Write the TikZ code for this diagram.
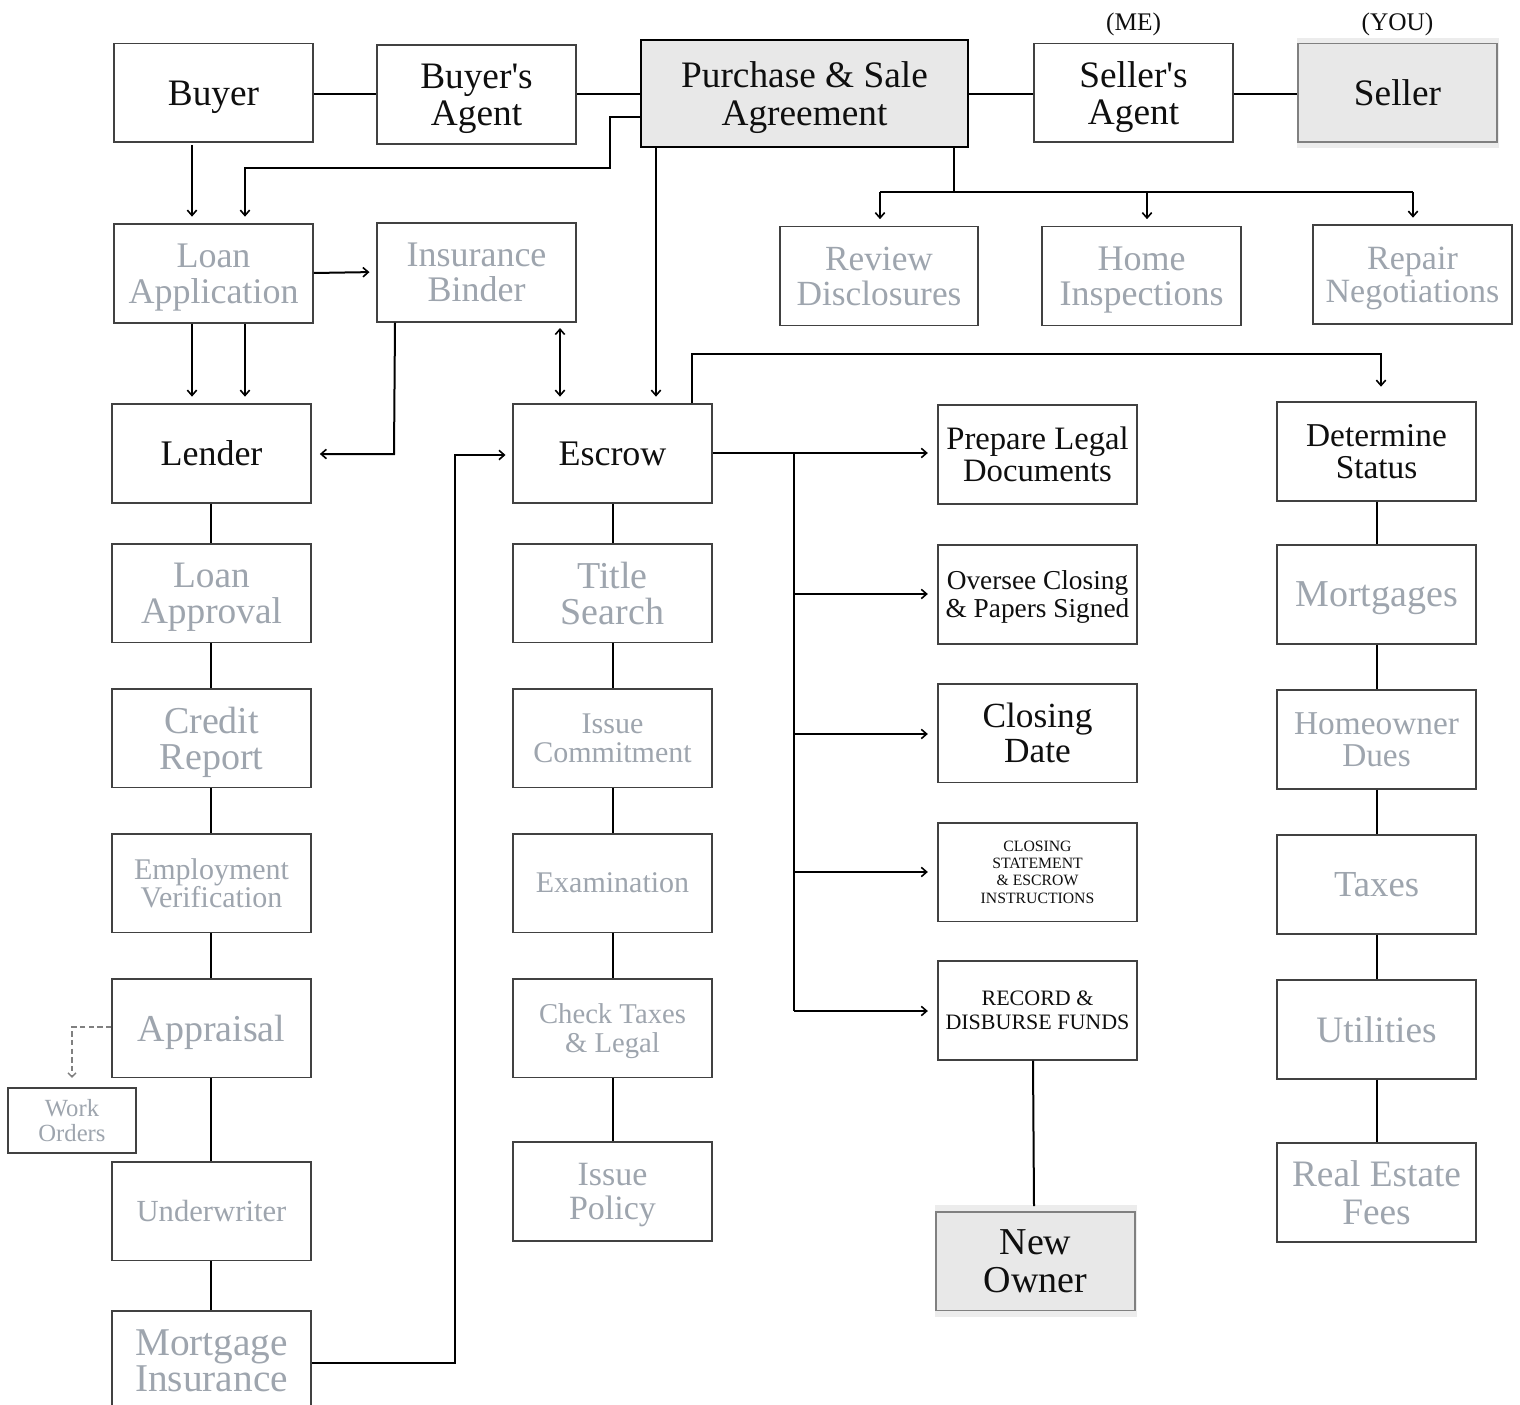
\documentclass[tikz,border=0pt]{standalone}
\usepackage{fontspec}
\setmainfont{Liberation Serif}[Ligatures=TeXOff]
\usetikzlibrary{arrows.meta}
\definecolor{bordc}{RGB}{65,65,65}
\definecolor{darktxt}{RGB}{15,15,15}
\definecolor{greytxt}{RGB}{158,165,174}
\definecolor{boxfill}{RGB}{232,232,232}
\definecolor{halofill}{RGB}{236,236,236}
\newcommand\myfs[2]{\fontsize{#1}{#2}\selectfont}
\tikzset{
  box/.style={draw=bordc, line width=1.25pt, minimum width=149.25pt, minimum height=74pt,
    inner sep=0pt, align=center, text=darktxt, text depth=0pt},
  gbox/.style={box, text=greytxt},
  conn/.style={line width=1.5pt, draw=black},
  arr/.style={conn, -{Straight Barb[length=4pt,width=7pt,line width=1.2pt]}, shorten >=5pt},
  darr/.style={conn, {Straight Barb[length=4pt,width=7pt,line width=1.2pt]}-{Straight Barb[length=4pt,width=7pt,line width=1.2pt]}, shorten >=5pt, shorten <=4pt},
  dasharr/.style={line width=1.2pt, draw=gray, dashed, dash pattern=on 4pt off 2.5pt, -{Straight Barb[length=3pt,width=6pt,line width=1pt]}, shorten >=7pt},
}
\begin{document}
\begin{tikzpicture}[x=0.75pt,y=-0.75pt]
\clip (0,0) rectangle (1520,1405);
\useasboundingbox (0,0) rectangle (1520,1405);
\fill[white] (0,0) rectangle (1520,1405);

% halos
\fill[halofill] (1297,38) rectangle (1499,148);
\fill[halofill] (935,1205) rectangle (1137,1317);

% top row
\node[box, font=\myfs{28}{28}] (buyer) at (213.5,93) {Buyer};
\node[box, font=\myfs{28}{28}] (bagent) at (476.5,94.5) {Buyer's\\Agent};
\node[box, draw=black, line width=2.2pt, fill=boxfill, minimum width=245.25pt, minimum height=80.25pt, font=\myfs{28}{28}] (psa) at (804.5,93.5) {Purchase \& Sale\\Agreement};
\node[box, font=\myfs{28}{28}] (sagent) at (1133.5,93) {Seller's\\Agent};
\node[box, fill=boxfill, draw=gray, font=\myfs{28}{28}] (seller) at (1397.5,93) {Seller};
\node[text=darktxt, font=\myfs{19}{19}] (me) at (1133.5,24) {(ME)};
\node[text=darktxt, font=\myfs{19}{19}] (you) at (1397.5,24) {(YOU)};

% second row
\node[gbox, font=\myfs{27}{27}] (loanapp) at (213.5,273.5) {Loan\\Application};
\node[gbox, font=\myfs{27}{26.5}] (insbinder) at (476.5,272.5) {Insurance\\Binder};
\node[gbox, minimum width=148.5pt, font=\myfs{26.5}{26.5}] (review) at (879,276) {Review\\Disclosures};
\node[gbox, font=\myfs{27}{26.5}] (homeinsp) at (1141.5,276) {Home\\Inspections};
\node[gbox, font=\myfs{25.5}{25}] (repair) at (1412.5,274.5) {Repair\\Negotiations};

% lender column
\node[box, font=\myfs{27}{27}] (lender) at (211.5,453.5) {Lender};
\node[gbox, font=\myfs{28}{27}] (loanappr) at (211.5,593) {Loan\\Approval};
\node[gbox, font=\myfs{28.5}{27}] (credit) at (211.5,738) {Credit\\Report};
\node[gbox, font=\myfs{22.5}{21}] (employ) at (211.5,883) {Employment\\Verification};
\node[gbox, font=\myfs{28.5}{28}] (appraisal) at (211.5,1028) {Appraisal};
\node[gbox, minimum width=96pt, minimum height=48.75pt, font=\myfs{18.5}{18.5}] (workorders) at (72,1120.5) {Work\\Orders};
\node[gbox, font=\myfs{23}{23}] (underwriter) at (211.5,1211) {Underwriter};
\node[gbox, font=\myfs{29.5}{27.5}] (mortins) at (211.5,1360.5) {Mortgage\\Insurance};

% escrow column
\node[box, font=\myfs{27}{27}] (escrow) at (612.5,453.5) {Escrow};
\node[gbox, font=\myfs{28.5}{27}] (title) at (612.5,593) {Title\\Search};
\node[gbox, font=\myfs{22.5}{21.5}] (issuecomm) at (612.5,738) {Issue\\Commitment};
\node[gbox, font=\myfs{22.5}{22}] (exam) at (612.5,883) {Examination};
\node[gbox, font=\myfs{21.5}{21.5}] (checktax) at (612.5,1028) {Check Taxes\\\& Legal};
\node[gbox, font=\myfs{25.5}{26}] (issuepol) at (612.5,1191.5) {Issue\\Policy};

% escrow tasks
\node[box, font=\myfs{24.5}{24}] (prepare) at (1037.5,454.5) {Prepare Legal\\Documents};
\node[box, font=\myfs{20.5}{21}] (oversee) at (1037.5,594.5) {Oversee Closing\\\& Papers Signed};
\node[box, font=\myfs{26.5}{26}] (closingdate) at (1037.5,733) {Closing\\Date};
\node[box, font=\myfs{11.8}{13}] (closingstmt) at (1037.5,872) {CLOSING\\STATEMENT\\\& ESCROW\\INSTRUCTIONS};
\node[box, font=\myfs{16.5}{18}] (record) at (1037.5,1010.5) {RECORD \&\\DISBURSE FUNDS};
\node[box, fill=boxfill, draw=gray, font=\myfs{28.5}{28}] (newowner) at (1035.5,1261) {New\\Owner};

% status column
\node[box, font=\myfs{25}{24}] (determine) at (1376.5,451.5) {Determine\\Status};
\node[gbox, font=\myfs{28.5}{28}] (mortgages) at (1376.5,594.5) {Mortgages};
\node[gbox, font=\myfs{25}{24.5}] (hoadues) at (1376.5,739.5) {Homeowner\\Dues};
\node[gbox, font=\myfs{27.5}{27}] (taxes) at (1376.5,884.5) {Taxes};
\node[gbox, font=\myfs{28}{28}] (utilities) at (1376.5,1029.5) {Utilities};
\node[gbox, font=\myfs{28}{28.5}] (refees) at (1376.5,1192.5) {Real Estate\\Fees};

% top row links
\draw[conn] (buyer.east |- 0,94) -- (bagent.west |- 0,94);
\draw[conn] (bagent.east |- 0,94) -- (psa.west |- 0,94);
\draw[conn] (psa.east |- 0,94) -- (sagent.west |- 0,94);
\draw[conn] (sagent.east |- 0,94) -- (seller.west |- 0,94);

% buyer / agreement to loan application
\draw[arr] (192,145) -- (192,0 |- loanapp.north);
\draw[arr] (psa.west |- 0,117) -| (610,168) -| (245,0 |- loanapp.north);

% agreement to inspections
\draw[conn] (954,0 |- psa.south) -- (954,192);
\draw[conn] (880,192) -- (1413,192);
\draw[arr] (880,192) -- (880,0 |- review.north);
\draw[arr] (1147,192) -- (1147,0 |- homeinsp.north);
\draw[arr] (1413,192) -- (1413,0 |- repair.north);

% agreement to escrow
\draw[arr] (656,0 |- psa.south) -- (656,0 |- escrow.north);

% loan application links
\draw[arr] (loanapp.east |- 0,273) -- (insbinder.west |- 0,272);
\draw[arr] (192,0 |- loanapp.south) -- (192,0 |- lender.north);
\draw[arr] (245,0 |- loanapp.south) -- (245,0 |- lender.north);

% insurance binder links
\draw[arr, shorten >=6pt] (395,0 |- insbinder.south) -- (394,454) -- (lender.east |- 0,454);
\draw[darr] (560,0 |- insbinder.south) -- (560,0 |- escrow.north);

% escrow to determine status
\draw[arr, shorten >=11pt] (692,0 |- escrow.north) -- (692,354) -| (1381,0 |- determine.north);

% mortgage insurance to escrow
\draw[arr, shorten >=5pt] (mortins.east |- 0,1363) -- (455,1363) -- (455,455) -- (escrow.west |- 0,455);

% appraisal to work orders
\draw[dasharr] (appraisal.west |- 0,1027) -| (workorders.north);

% escrow to tasks
\draw[arr, shorten >=7pt] (escrow.east |- 0,453) -- (prepare.west |- 0,453);
\draw[conn] (794,453) -- (794,1011);
\draw[arr, shorten >=7pt] (794,594) -- (oversee.west |- 0,594);
\draw[arr, shorten >=7pt] (794,734) -- (closingdate.west |- 0,734);
\draw[arr, shorten >=7pt] (794,872) -- (closingstmt.west |- 0,872);
\draw[arr, shorten >=7pt] (794,1011) -- (record.west |- 0,1011);
\draw[conn] (1033,0 |- record.south) -- (1034,1206);

% vertical chains
\foreach \a/\b in {lender/loanappr, loanappr/credit, credit/employ, employ/appraisal, appraisal/underwriter, underwriter/mortins}
  \draw[conn] (211,0 |- \a.south) -- (211,0 |- \b.north);
\foreach \a/\b in {escrow/title, title/issuecomm, issuecomm/exam, exam/checktax, checktax/issuepol}
  \draw[conn] (612.5,0 |- \a.south) -- (612.5,0 |- \b.north);
\foreach \a/\b in {determine/mortgages, mortgages/hoadues, hoadues/taxes, taxes/utilities, utilities/refees}
  \draw[conn] (1376.5,0 |- \a.south) -- (1376.5,0 |- \b.north);
\end{tikzpicture}
\end{document}
